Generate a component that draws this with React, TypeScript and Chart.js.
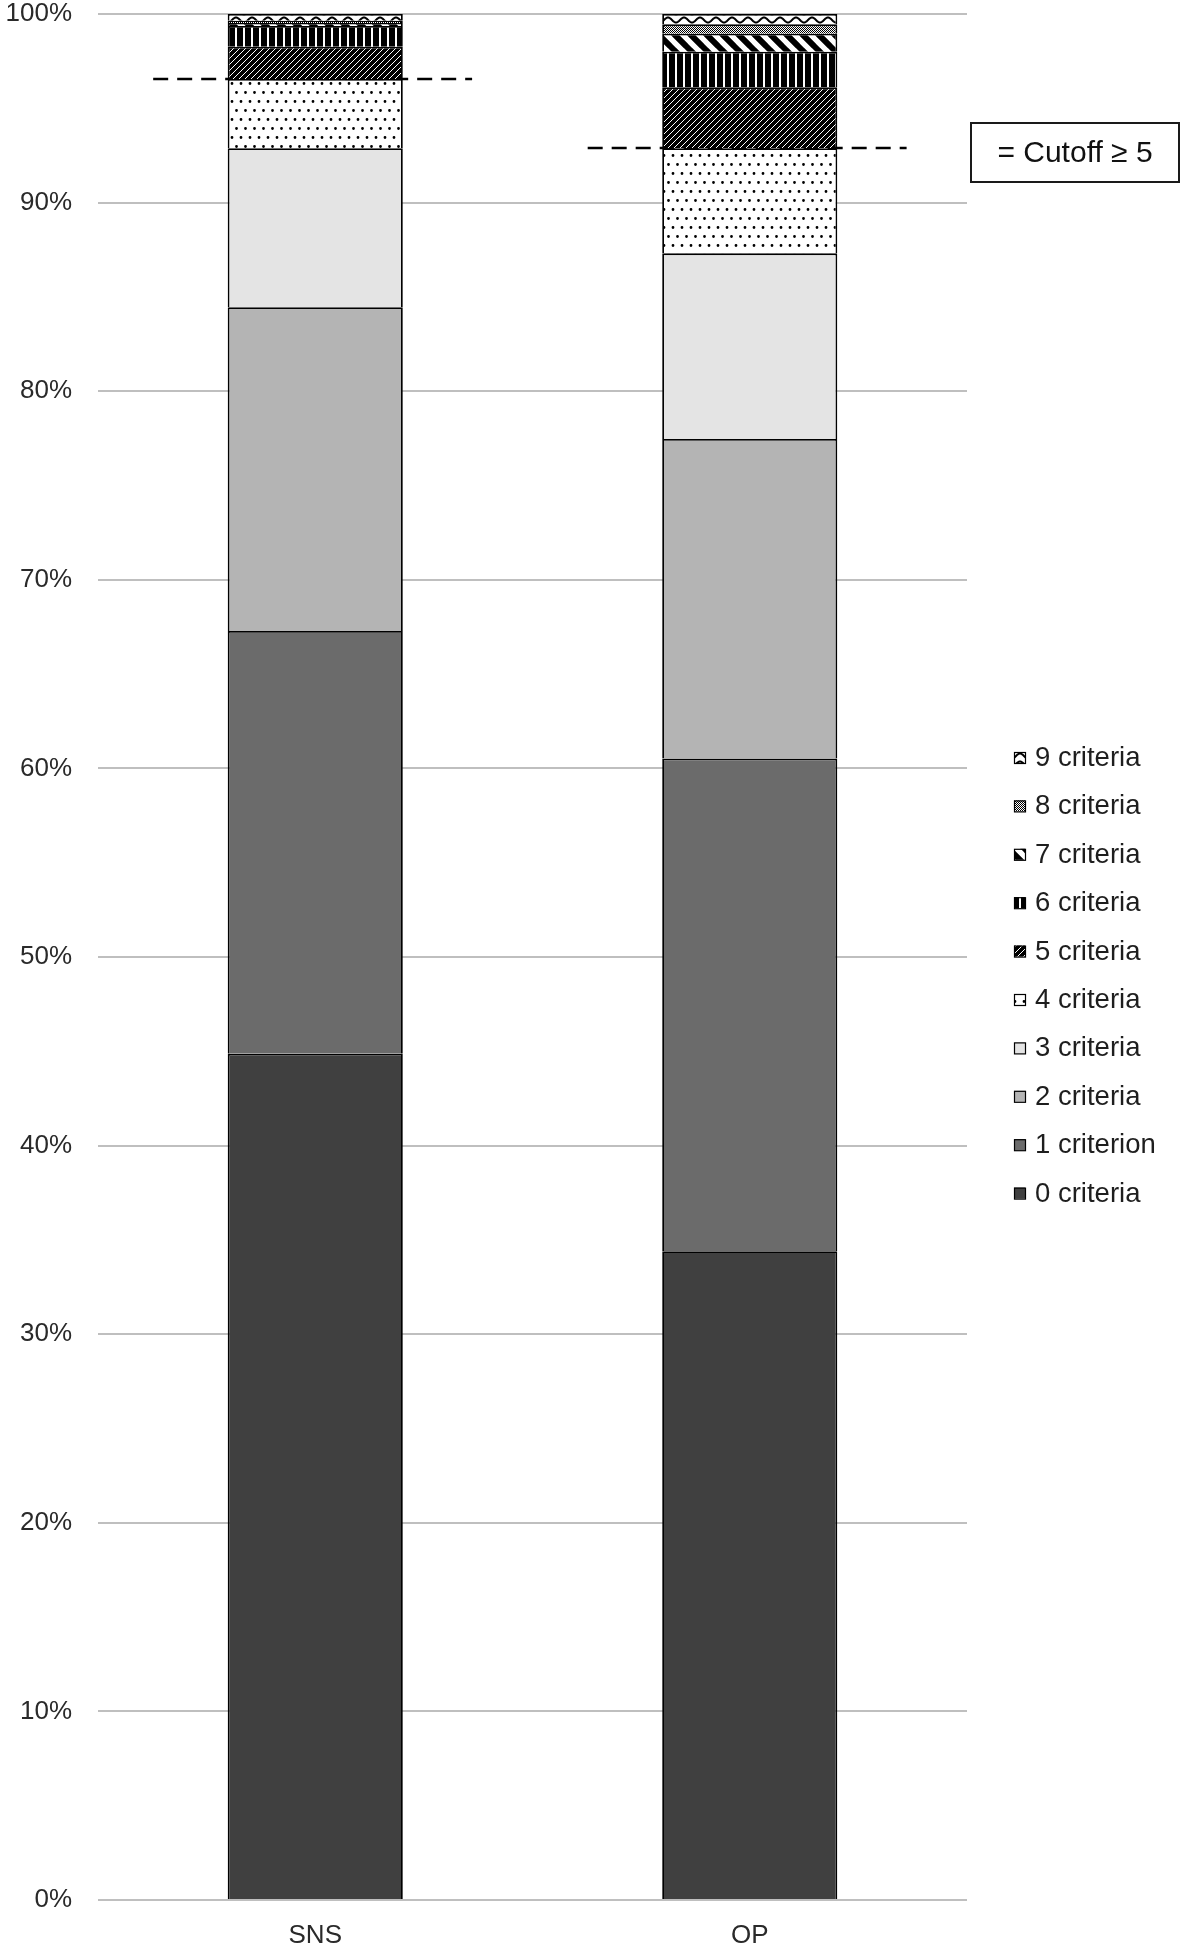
import React, { useEffect, useRef } from 'react';
import { Chart, registerables } from 'chart.js';

Chart.register(...registerables);

// ---- data ----
const categories = ['SNS', 'OP'];
const seriesLabels = [
  '0 criteria',
  '1 criterion',
  '2 criteria',
  '3 criteria',
  '4 criteria',
  '5 criteria',
  '6 criteria',
  '7 criteria',
  '8 criteria',
  '9 criteria',
];
const snsValues = [44.87, 22.42, 17.16, 8.43, 3.67, 1.72, 1.1, 0.15, 0.12, 0.36];
const opValues = [34.4, 26.13, 16.94, 9.84, 5.57, 3.23, 1.89, 0.95, 0.5, 0.55];
const yTicks = [0, 10, 20, 30, 40, 50, 60, 70, 80, 90, 100];
const cutoffIndex = 5;
const cutoffLabel = '= Cutoff \u2265 5';

const FONT = "'Liberation Sans', Arial, Helvetica, sans-serif";

function tile(w: number, h: number, draw: (c: CanvasRenderingContext2D) => void) {
  const cv = document.createElement('canvas');
  cv.width = w;
  cv.height = h;
  const c = cv.getContext('2d') as CanvasRenderingContext2D;
  draw(c);
  return cv;
}

function buildFills(ctx: CanvasRenderingContext2D): (string | CanvasPattern)[] {
  const pat = (cv: HTMLCanvasElement) => ctx.createPattern(cv, 'repeat') as CanvasPattern;
  // 4 criteria: dots
  const dots = tile(9, 18, (c) => {
    c.fillStyle = '#fff';
    c.fillRect(0, 0, 9, 18);
    c.fillStyle = '#000';
    c.beginPath();
    c.arc(2.5, 2.5, 1.4, 0, Math.PI * 2);
    c.arc(7, 11.5, 1.4, 0, Math.PI * 2);
    c.fill();
  });
  // 5 criteria: black with thin white upward diagonals
  const upDiag = tile(6, 6, (c) => {
    c.fillStyle = '#000';
    c.fillRect(0, 0, 6, 6);
    c.strokeStyle = '#fff';
    c.lineWidth = 1;
    c.beginPath();
    c.moveTo(-1, 7);
    c.lineTo(7, -1);
    c.moveTo(-1, 1);
    c.lineTo(1, -1);
    c.moveTo(5, 7);
    c.lineTo(7, 5);
    c.stroke();
  });
  // 6 criteria: black with white vertical lines
  const vert = tile(8, 8, (c) => {
    c.fillStyle = '#000';
    c.fillRect(0, 0, 8, 8);
    c.fillStyle = '#fff';
    c.fillRect(3, 0, 2, 8);
  });
  // 7 criteria: wide downward diagonal
  const downDiag = tile(16, 16, (c) => {
    c.fillStyle = '#fff';
    c.fillRect(0, 0, 16, 16);
    c.strokeStyle = '#000';
    c.lineWidth = 6;
    c.beginPath();
    c.moveTo(-2, -2);
    c.lineTo(18, 18);
    c.moveTo(-2, 14);
    c.lineTo(2, 18);
    c.moveTo(14, -2);
    c.lineTo(18, 2);
    c.stroke();
  });
  // 8 criteria: fine checker
  const checker = tile(2, 2, (c) => {
    c.fillStyle = '#fff';
    c.fillRect(0, 0, 2, 2);
    c.fillStyle = '#000';
    c.fillRect(0, 0, 1, 1);
    c.fillRect(1, 1, 1, 1);
  });
  // 9 criteria: wave
  const wave = tile(16, 8, (c) => {
    c.fillStyle = '#fff';
    c.fillRect(0, 0, 16, 8);
    c.strokeStyle = '#000';
    c.lineWidth = 2;
    c.beginPath();
    for (let x = -1; x <= 17; x += 0.5) {
      const y = 4 + 2.5 * Math.sin((x / 16) * Math.PI * 2);
      if (x === -1) c.moveTo(x, y);
      else c.lineTo(x, y);
    }
    c.stroke();
  });
  return [
    '#404040',
    '#6b6b6b',
    '#b4b4b4',
    '#e4e4e4',
    pat(dots),
    pat(upDiag),
    pat(vert),
    pat(downDiag),
    pat(checker),
    pat(wave),
  ];
}

const overlayPlugin = {
  id: 'overlay',
  beforeDatasetsDraw(chart: any) {
    const { ctx, scales } = chart;
    const xs = scales.x;
    const ys = scales.y;
    const catW = (chart.chartArea.right - chart.chartArea.left) / categories.length;
    const seriesByCat = [snsValues, opValues];
    ctx.save();
    ctx.strokeStyle = '#000';
    ctx.lineWidth = 2.6;
    ctx.setLineDash([15, 9]);
    categories.forEach((_, i) => {
      const vals = seriesByCat[i];
      let cum = 0;
      for (let k = 0; k < cutoffIndex; k++) cum += vals[k];
      const y = Math.round(ys.getPixelForValue(cum));
      const xc = xs.getPixelForValue(i);
      ctx.beginPath();
      ctx.moveTo(xc - catW * 0.373, y);
      ctx.lineTo(xc + catW * 0.361, y);
      ctx.stroke();
    });
    ctx.restore();
  },
  afterDraw(chart: any) {
    const { ctx, chartArea } = chart;
    const datasets = chart.data.datasets;
    ctx.save();
    // legend (reversed order)
    const x0 = chartArea.right + 47;
    const y0 = 757.5;
    const dy = 48.4;
    const m = 11;
    ctx.font = `27.5px ${FONT}`;
    ctx.textBaseline = 'middle';
    ctx.textAlign = 'left';
    for (let i = 0; i < datasets.length; i++) {
      const ds = datasets[datasets.length - 1 - i];
      const cy = y0 + i * dy;
      ctx.fillStyle = ds.backgroundColor;
      ctx.fillRect(x0, cy - m / 2, m, m);
      ctx.strokeStyle = '#000';
      ctx.lineWidth = 1.2;
      ctx.setLineDash([]);
      ctx.strokeRect(x0 + 0.5, cy - m / 2 + 0.5, m, m);
      ctx.fillStyle = '#1e1e1e';
      ctx.fillText(ds.label, x0 + 21, cy + 1);
    }
    // cutoff annotation box
    const bx = chartArea.right + 4;
    const by = 123;
    const bw = 208;
    const bh = 59;
    ctx.fillStyle = '#fff';
    ctx.fillRect(bx, by, bw, bh);
    ctx.strokeStyle = '#1a1a1a';
    ctx.lineWidth = 2;
    ctx.strokeRect(bx, by, bw, bh);
    ctx.fillStyle = '#111';
    ctx.font = `30px ${FONT}`;
    ctx.textAlign = 'center';
    ctx.fillText(cutoffLabel, bx + bw / 2, by + bh / 2 + 1);
    ctx.restore();
  },
};

export default function App() {
  const ref = useRef<HTMLCanvasElement | null>(null);

  useEffect(() => {
    const canvas = ref.current;
    if (!canvas) return;
    const ctx = canvas.getContext('2d') as CanvasRenderingContext2D;
    const fills = buildFills(ctx);
    const datasets = seriesLabels.map((label, i) => ({
      label,
      data: [snsValues[i], opValues[i]],
      backgroundColor: fills[i],
      borderColor: '#000',
      borderWidth: 1.8,
      stack: 'total',
      barPercentage: 0.403,
      categoryPercentage: 1,
    }));

    const chart = new Chart(canvas, {
      type: 'bar',
      data: { labels: categories, datasets },
      options: {
        responsive: false,
        animation: false,
        devicePixelRatio: 1,
        layout: { padding: { top: 14, right: 214, left: 0, bottom: 0 } },
        plugins: {
          legend: { display: false },
          tooltip: { enabled: false },
        },
        scales: {
          x: {
            stacked: true,
            grid: { display: false },
            border: { display: false },
            ticks: {
              color: '#2a2a2a',
              font: { family: FONT, size: 26 },
              padding: 12,
            },
            afterFit: (s: any) => {
              s.height = 48;
            },
          },
          y: {
            stacked: true,
            min: 0,
            max: 100,
            afterBuildTicks: (s: any) => {
              s.ticks = yTicks.map((v) => ({ value: v }));
            },
            ticks: {
              color: '#2a2a2a',
              font: { family: FONT, size: 26, lineHeight: 1 },
              padding: 0,
              callback: (v: any) => `${v}%`,
            },
            grid: {
              color: '#bfbfbf',
              lineWidth: 2,
              drawTicks: true,
              tickLength: 26,
              tickColor: 'rgba(0,0,0,0)',
            },
            border: { display: false },
            afterFit: (s: any) => {
              s.width = 98;
            },
          },
        },
      } as any,
      plugins: [overlayPlugin],
    });
    return () => chart.destroy();
  }, []);

  return (
    <div style={{ position: 'absolute', left: 0, top: 0, width: 1181, height: 1948, background: '#fff' }}>
      <canvas ref={ref} width={1181} height={1948} style={{ display: 'block' }} />
    </div>
  );
}
